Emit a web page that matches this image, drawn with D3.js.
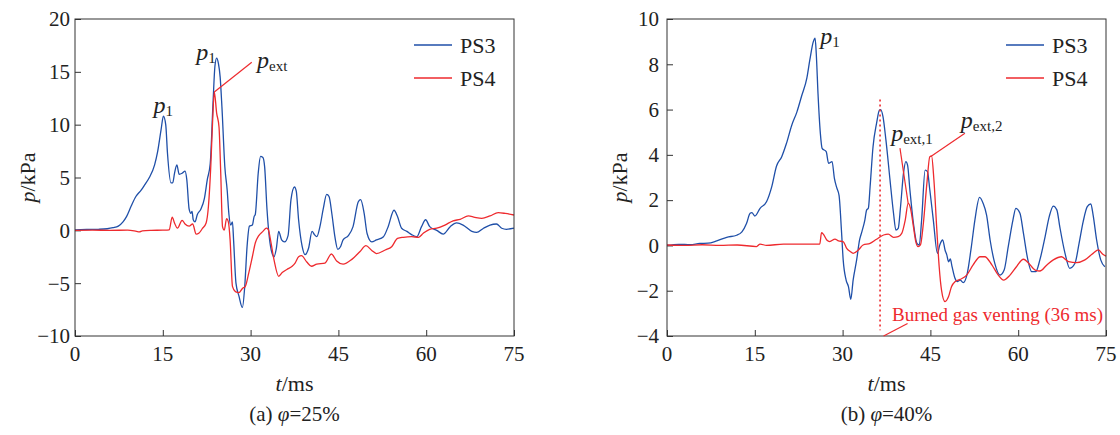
<!DOCTYPE html>
<html>
<head>
<meta charset="utf-8">
<script src="https://cdn.jsdelivr.net/npm/d3@7"></script>
<style>
  body { margin: 0; background: #fff; }
  #chart, #chart text, #chart tspan { font-family: "Liberation Serif" !important; }
</style>
</head>
<body>
<svg id="chart" width="1120" height="435" font-family="Liberation Serif"></svg>
<script>
// time ticks (ms) and pressure ticks (kPa)
const timeTicks = [0, 15, 30, 45, 60, 75];
const pTicksA = [-10, -5, 0, 5, 10, 15, 20];
const pTicksB = [-4, -2, 0, 2, 4, 6, 8, 10];
const seriesNames = ['PS3', 'PS4'];

// (a) phi = 25%  -- [t ms, p kPa]
const ps3A = [[0,0.05],[2,0.08],[4,0.1],[5.5,0.15],[6.5,0.25],[7.4,0.4],[8.2,0.8],[8.8,1.3],[9.6,2.3],[10.4,3.2],[11.3,3.8],[11.9,4.3],[12.7,5.0],[13.6,6.2],[14.1,7.4],[14.7,9.5],[15.1,10.8],[15.5,10.0],[15.8,7.3],[16.4,4.5],[16.7,4.5],[17.0,5.4],[17.4,6.2],[17.8,5.3],[18.3,5.4],[18.8,5.6],[19.1,4.8],[19.5,2.0],[19.8,1.6],[20.0,1.8],[20.2,1.0],[20.5,0.8],[20.9,1.5],[21.5,2.0],[22.1,3.0],[22.6,4.8],[23.1,6.3],[23.6,12.3],[23.9,15.5],[24.2,16.3],[24.5,15.8],[24.8,14.5],[25.1,11.7],[25.6,6.0],[26.0,3.8],[26.3,1.5],[26.6,0.5],[26.9,0.8],[27.1,-1.0],[27.5,-5.0],[28.0,-6.2],[28.6,-7.3],[29.0,-5.3],[29.4,-1.5],[29.8,0.4],[30.3,0.5],[30.6,1.3],[30.8,1.5],[31.3,5.4],[31.7,7.0],[32.1,6.9],[32.4,6.0],[32.8,2.0],[33.4,-1.5],[34.0,-2.5],[34.4,-1.7],[34.8,-0.1],[35.3,-0.9],[35.8,-1.1],[36.4,-0.5],[36.9,2.9],[37.5,4.1],[37.8,3.7],[38.2,1.0],[38.8,-1.5],[39.3,-2.3],[39.9,-1.7],[40.5,-0.1],[40.9,-0.4],[41.3,-0.6],[41.9,0.5],[42.4,2.0],[43.0,3.4],[43.4,3.2],[43.9,1.5],[44.4,-0.6],[44.9,-1.8],[45.4,-1.5],[45.8,-0.9],[46.7,-0.5],[47.5,0.35],[48.4,2.7],[48.8,2.9],[49.4,1.6],[49.9,-0.3],[50.7,-1.1],[51.5,-0.9],[52.7,-0.6],[53.5,0.35],[54.5,1.9],[55.1,1.3],[55.8,0.2],[56.7,-0.1],[57.5,-0.4],[58.4,-0.6],[59.2,0.35],[59.9,1.0],[60.6,0.35],[61.8,0.0],[62.9,-0.35],[64.1,0.35],[65.2,0.7],[66.3,0.5],[67.8,-0.1],[68.6,-0.2],[69.8,0.2],[70.9,0.5],[72.0,0.6],[72.9,0.2],[73.7,0.1],[75,0.2]];
const ps4A = [[0,0],[3,0.02],[6,0],[9,0.02],[10.5,-0.1],[11,-0.15],[11.5,-0.05],[13,0],[15,0.02],[16.1,0.05],[16.6,1.25],[17.0,0.7],[17.5,0.2],[18.3,0.95],[18.8,0.6],[19.5,0.4],[20.1,0.6],[20.7,-0.35],[21.2,-0.25],[21.8,0.2],[22.4,0.7],[22.8,2.3],[23.2,6.1],[23.5,10.2],[23.8,13.1],[24.2,11.1],[24.6,9.8],[24.9,5.4],[25.2,0.35],[25.5,0.03],[25.9,1.1],[26.2,0.8],[26.5,-0.9],[26.9,-5.3],[27.4,-5.8],[28.0,-5.9],[28.6,-5.5],[29.1,-5.3],[29.7,-4.0],[30.3,-2.5],[30.8,-1.2],[31.4,-0.5],[32.1,-0.1],[32.7,0.2],[33.0,0.1],[33.4,-0.9],[34.0,-2.8],[34.8,-4.35],[35.4,-4.0],[36.2,-3.7],[37.1,-3.4],[37.6,-3.1],[38.2,-2.5],[38.7,-2.4],[39.6,-3.0],[40.4,-3.4],[41.3,-3.2],[42.7,-3.1],[43.8,-2.24],[44.7,-2.9],[45.8,-3.2],[47.3,-2.75],[48.7,-2.0],[49.7,-1.45],[50.7,-1.9],[51.5,-2.2],[53.0,-1.86],[54.1,-1.55],[55.1,-0.76],[56.1,-0.66],[57.5,-0.6],[58.7,-0.66],[59.5,-0.28],[60.6,0.1],[61.8,0.2],[63.2,0.5],[64.6,0.9],[65.8,1.04],[67.2,1.36],[68.3,1.23],[69.5,1.14],[70.9,1.36],[72.3,1.67],[73.5,1.6],[75,1.45]];

// (b) phi = 40%
const ps3B = [[0,0.0],[2,0.05],[4,0.03],[5.6,0.09],[7,0.1],[8.5,0.2],[10.2,0.36],[11.9,0.45],[12.8,0.6],[13.6,0.98],[14.2,1.42],[14.5,1.45],[15.0,1.3],[15.9,1.64],[17.0,1.93],[17.9,2.6],[18.7,3.5],[19.6,3.92],[20.4,4.5],[21.3,5.3],[22.2,5.9],[23.0,6.6],[23.9,7.4],[24.4,8.19],[25.0,9.0],[25.3,9.15],[25.5,8.48],[25.8,6.7],[26.2,4.95],[26.5,4.29],[27.2,4.14],[27.6,3.63],[28.2,3.7],[28.6,2.96],[29.0,2.55],[29.4,2.2],[29.8,0.68],[30.1,-0.64],[30.6,-1.53],[31.0,-1.82],[31.4,-2.38],[31.8,-1.53],[32.4,-0.64],[32.9,0.24],[33.3,0.61],[33.8,1.12],[34.1,1.56],[34.4,1.64],[34.7,2.6],[35.2,4.36],[35.8,5.39],[36.3,5.98],[36.5,6.0],[36.9,5.69],[37.4,4.66],[38.1,2.89],[38.7,1.42],[39.1,0.68],[39.5,0.75],[39.9,1.71],[40.4,3.18],[40.8,3.7],[41.1,3.55],[41.5,2.45],[42.1,0.98],[42.7,0.09],[43.1,0.02],[43.5,1.12],[44.1,3.33],[44.5,3.26],[44.9,2.45],[45.5,1.12],[46.2,-0.35],[46.6,0.02],[47.1,0.24],[47.5,-0.2],[47.8,-0.42],[48.1,-0.72],[48.4,-0.6],[48.7,-0.94],[49.2,-1.45],[49.6,-1.6],[50.1,-1.53],[50.6,-1.64],[51.3,-1.23],[52.0,-0.05],[52.6,1.12],[53.4,2.12],[54.0,1.86],[54.6,1.34],[55.2,0.24],[56.0,-0.79],[56.9,-1.31],[57.6,-1.09],[58.3,-0.05],[59.1,1.12],[59.6,1.64],[60.3,1.42],[60.9,0.53],[61.6,-0.57],[62.3,-1.16],[63.0,-1.16],[63.7,-0.64],[64.6,0.39],[65.3,1.27],[66.0,1.74],[66.6,1.57],[67.1,0.83],[68.0,-0.35],[68.8,-1.01],[69.7,-0.79],[70.4,0.09],[71.1,1.05],[71.8,1.71],[72.4,1.83],[72.8,1.34],[73.4,0.24],[74.1,-0.64],[74.8,-0.94]];
const ps4B = [[0,0.02],[3,0.0],[6,0.03],[9,0.0],[12,0.02],[15.3,-0.05],[15.9,0.06],[17,0.0],[19.9,0.06],[23.3,0.06],[26.1,0.06],[26.4,0.56],[26.7,0.5],[27.3,0.24],[27.8,0.17],[28.7,0.28],[29.3,0.2],[30.1,0.17],[30.7,-0.13],[31.3,-0.27],[31.8,-0.35],[32.7,-0.2],[33.5,0.02],[34.7,0.09],[35.8,0.27],[37.0,0.46],[37.8,0.5],[38.7,0.36],[39.5,0.39],[40.1,0.53],[40.7,1.12],[41.2,1.86],[41.6,1.64],[42.1,0.83],[42.5,0.17],[42.9,-0.05],[43.3,0.02],[43.8,0.98],[44.4,2.74],[44.9,3.92],[45.2,3.95],[45.6,2.89],[46.1,0.68],[46.5,-0.94],[46.9,-1.97],[47.5,-2.48],[48.1,-2.26],[48.6,-1.82],[49.2,-1.6],[50.1,-1.5],[51.2,-1.31],[52.3,-0.86],[53.5,-0.5],[54.3,-0.5],[55.5,-0.86],[56.6,-1.31],[57.5,-1.53],[58.6,-1.31],[59.7,-0.94],[60.9,-0.61],[61.7,-0.76],[62.9,-1.09],[63.7,-1.13],[64.9,-0.86],[66.0,-0.64],[67.4,-0.5],[68.6,-0.72],[70.0,-0.76],[71.4,-0.64],[72.8,-0.35],[73.7,-0.2],[74.4,-0.38],[75,-0.47]];

// burned gas venting marker (b)
const ventTime = 36.4;
const ventRange = [6.45, -3.75];

const colors = ['#1f4fa8', '#ee2a2e'];

const svg = d3.select('#chart');

function addText(sel, size) {
  return sel.append('text')
    .attr('font-family', 'Liberation Serif')
    .style('font-size', size + 'px')
    .style('fill', '#222');
}

function drawPanel(cfg) {
  const x = d3.scaleLinear().domain([0, 75]).range([cfg.left, cfg.right]);
  const y = d3.scaleLinear().domain(cfg.yDomain).range([cfg.bottom, cfg.top]);
  const g = svg.append('g');

  // axes with inward ticks
  g.append('g')
    .attr('transform', `translate(0, ${cfg.bottom})`)
    .call(d3.axisTop(x).tickValues(timeTicks).tickSize(6).tickFormat(''))
    .call(a => a.select('.domain').remove())
    .selectAll('line').attr('stroke', '#333');
  g.append('g')
    .attr('transform', `translate(${cfg.left}, 0)`)
    .call(d3.axisRight(y).tickValues(cfg.yTicks).tickSize(6).tickFormat(''))
    .call(a => a.select('.domain').remove())
    .selectAll('line').attr('stroke', '#333');

  // tick labels
  timeTicks.forEach(d => {
    addText(g, 21).attr('x', x(d)).attr('y', cfg.bottom + 25)
      .attr('text-anchor', 'middle').text(d);
  });
  cfg.yTicks.forEach(d => {
    addText(g, 21).attr('x', cfg.left - cfg.labelPad).attr('y', y(d)).attr('dy', '0.35em')
      .attr('text-anchor', 'end').text(d3.format('')(d));
  });

  // series
  const line = d3.line().x(d => x(d[0])).y(d => y(d[1])).curve(d3.curveMonotoneX);
  cfg.series.forEach((s, i) => {
    g.append('path').datum(s)
      .attr('d', line)
      .attr('fill', 'none')
      .attr('stroke', colors[i])
      .attr('stroke-width', 1.3);
  });

  if (cfg.vent) {
    g.append('line')
      .attr('x1', x(ventTime)).attr('x2', x(ventTime))
      .attr('y1', y(ventRange[0])).attr('y2', y(ventRange[1]))
      .attr('stroke', colors[1]).attr('stroke-width', 1.6)
      .attr('stroke-dasharray', '2,3');
  }

  // frame
  g.append('rect')
    .attr('x', cfg.left).attr('y', cfg.top)
    .attr('width', cfg.right - cfg.left).attr('height', cfg.bottom - cfg.top)
    .attr('fill', 'none').attr('stroke', '#333').attr('stroke-width', 1);

  // legend
  seriesNames.forEach((name, i) => {
    const ly = cfg.top + 26 + i * 33;
    g.append('line')
      .attr('x1', cfg.right - 100).attr('x2', cfg.right - 62)
      .attr('y1', ly).attr('y2', ly)
      .attr('stroke', colors[i]).attr('stroke-width', 1.3);
    addText(g, 22).attr('x', cfg.right - 54).attr('y', ly).attr('dy', '0.35em').text(name);
  });

  // leader lines & labels
  cfg.leaders.forEach(l => {
    g.append('line')
      .attr('x1', x(l.from[0])).attr('y1', y(l.from[1]))
      .attr('x2', x(l.to[0])).attr('y2', y(l.to[1]))
      .attr('stroke', colors[1]).attr('stroke-width', 1.2);
  });
  cfg.labels.forEach(l => {
    const t = addText(g, 24).attr('x', x(l.at[0])).attr('y', y(l.at[1]));
    t.append('tspan').style('font-style', 'italic').text('p');
    t.append('tspan').attr('dy', '0.2em').style('font-size', '15px').text(l.sub);
  });

  // axis titles
  const yt = addText(g, 22)
    .attr('transform', `translate(${cfg.left - 40}, ${(cfg.top + cfg.bottom) / 2}) rotate(-90)`)
    .attr('text-anchor', 'middle');
  yt.append('tspan').style('font-style', 'italic').text('p');
  yt.append('tspan').text('/kPa');

  const xt = addText(g, 22)
    .attr('x', (cfg.left + cfg.right) / 2).attr('y', cfg.bottom + 55)
    .attr('text-anchor', 'middle');
  xt.append('tspan').style('font-style', 'italic').text('t');
  xt.append('tspan').text('/ms');

  const cap = addText(g, 21)
    .attr('x', (cfg.left + cfg.right) / 2).attr('y', cfg.bottom + 85)
    .attr('text-anchor', 'middle');
  cap.append('tspan').text(cfg.tag + ' ');
  cap.append('tspan').style('font-style', 'italic').text('φ');
  cap.append('tspan').text('=' + cfg.phi);

  return { x, y, g };
}

drawPanel({
  left: 75, right: 514, top: 19, bottom: 336, labelPad: 5,
  yDomain: [-10, 20], yTicks: pTicksA,
  series: [ps3A, ps4A],
  leaders: [{ from: [23.8, 13.1], to: [30.2, 15.9] }],
  labels: [
    { at: [13.4, 11.1], sub: '1' },
    { at: [20.7, 16.1], sub: '1' },
    { at: [31.1, 15.4], sub: 'ext' }
  ],
  tag: '(a)', phi: '25%'
});

const pb = drawPanel({
  left: 667, right: 1106, top: 19, bottom: 336, labelPad: 8,
  yDomain: [-4, 10], yTicks: pTicksB,
  series: [ps3B, ps4B], vent: true,
  leaders: [
    { from: [41.2, 1.86], to: [39.8, 4.3] },
    { from: [45.2, 3.95], to: [50.9, 4.95] },
    { from: [37.0, -4.0], to: [41.1, -3.45] }
  ],
  labels: [
    { at: [26.2, 8.9], sub: '1' },
    { at: [38.3, 4.6], sub: 'ext,1' },
    { at: [50.2, 5.2], sub: 'ext,2' }
  ],
  tag: '(b)', phi: '40%'
});

addText(pb.g, 19)
  .attr('x', pb.x(74.5)).attr('y', pb.y(-3.35))
  .attr('text-anchor', 'end')
  .style('fill', colors[1])
  .text('Burned gas venting (36 ms)');
</script>
</body>
</html>
